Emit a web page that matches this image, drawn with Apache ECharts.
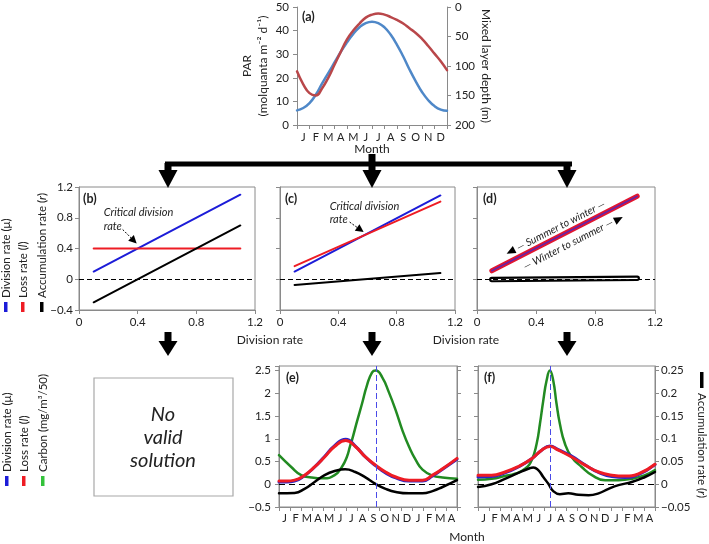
<!DOCTYPE html>
<html><head><meta charset="utf-8">
<script src="https://cdn.jsdelivr.net/npm/echarts@6/dist/echarts.min.js"></script>
<style>html,body{margin:0;padding:0;background:#fff}#c{width:709px;height:544px}</style>
</head><body><div id="c"></div>
<script>
const FONT = 'Lato';
const GRAY = '#8a8a8a';
const TXT = '#222222';

// ---------------- DATA ----------------
const monthsA = ['J','F','M','A','M','J','J','A','S','O','N','D'];
const monthsEF = ['J','F','M','A','M','J','J','A','S','O','N','D','J','F','M','A'];

// (a) PAR and mixed layer depth, month position (0 = start of Jan)
const aMonthPos = [0,0.5,1,1.5,2,2.5,3,3.5,4,4.5,5,5.5,6,6.5,7,7.5,8,8.5,9,9.5,10,10.5,11,11.5,12];
const parVals = [6.2,7.2,9.3,12.8,17.5,22,26.5,31,35,38.6,41.4,43.2,43.8,43.2,41.4,38.2,34,29,23.5,18.5,14,10.5,8,6.5,6];
const mldVals = [109,131,146,150,138,120,98,76,55,40,28,18,13,11,13,17,22,28,36,44,54,66,79,92,107];

// (b)
const bX = [0.1, 1.1];
const bDiv = [0.1, 1.1];
const bLoss = [0.4, 0.4];
const bAcc = [-0.3, 0.7];
// (c)
const cX = [0.1, 1.1];
const cDiv = [0.1, 1.09];
const cLoss = [0.17, 1.01];
const cAcc = [-0.075, 0.08];
// (d)
const dX = [0.1, 1.08];
const dDiv = [0.11, 1.08];
const dAcc = [-0.004, 0.012];

// (e)
const eGreenX = [0,1.1,2,2.9,4,5,5.65,6.1,6.4,6.56,7,7.46,7.9,8.37,8.7,9.28,9.88,10.5,11.1,11.7,12.3,12.9,13.8,14.7,16];
const eGreen  = [0.64,0.38,0.2,0.15,0.13,0.2,0.38,0.6,0.85,0.97,1.37,1.77,2.17,2.46,2.5,2.35,2.02,1.62,1.18,0.82,0.53,0.32,0.19,0.15,0.12];
const eRateX  = [0,0.7,1.4,2.3,3.2,4.1,5,6,6.86,7.77,8.67,9.58,10.5,11.7,12.9,13.8,14.7,16];
const eLoss   = [0.07,0.07,0.09,0.2,0.38,0.6,0.83,0.96,0.83,0.6,0.42,0.27,0.16,0.09,0.09,0.2,0.34,0.57];
const eDiv    = [0.05,0.05,0.07,0.19,0.38,0.61,0.85,0.99,0.84,0.6,0.41,0.25,0.14,0.07,0.07,0.18,0.33,0.55];
const eAccX   = [0,1.4,2.3,3.2,4.1,5,5.95,6.86,7.77,8.67,9.58,10.5,11.7,12.9,13.8,14.7,16];
const eAcc    = [-0.02,-0.019,-0.01,0.005,0.02,0.029,0.033,0.027,0.015,0.001,-0.01,-0.017,-0.02,-0.02,-0.015,-0.006,0.009];

// (f)
const fGreenX = [0,1.23,2.44,3.34,4.25,4.85,5.3,5.6,5.9,6.2,6.5,6.8,7.1,7.4,7.86,8.46,9.37,10.3,11.5,12.7,13.9,15.1,16];
const fGreen  = [0.1,0.12,0.18,0.23,0.34,0.53,0.89,1.33,1.84,2.28,2.5,2.28,1.77,1.33,0.89,0.6,0.38,0.2,0.09,0.09,0.12,0.2,0.31];
const fRateX  = [0,1.23,2.44,3.64,4.85,5.75,6.5,7.26,8.46,9.67,10.9,12.1,13.3,14.5,16];
const fLoss   = [0.2,0.2,0.27,0.39,0.56,0.75,0.83,0.75,0.6,0.42,0.27,0.2,0.18,0.23,0.44];
const fDiv    = [0.16,0.17,0.25,0.38,0.56,0.75,0.84,0.76,0.62,0.43,0.26,0.17,0.15,0.21,0.43];
const fAccX   = [0,1.23,2.44,3.64,4.55,5,5.45,5.9,6.36,6.8,7.4,8.16,9.07,10,10.9,11.8,12.7,13.9,15.1,16];
const fAcc    = [-0.006,0,0.012,0.025,0.034,0.037,0.031,0.016,0.001,-0.015,-0.022,-0.02,-0.023,-0.024,-0.02,-0.01,-0.002,0.005,0.016,0.027];

// ---------------- HELPERS ----------------
const zip = (xs, ys) => xs.map((x, i) => [x, ys[i]]);
const argmaxX = (xs, ys) => xs[ys.indexOf(Math.max.apply(null, ys))];
const numFmt = v => { const s = String(+(+v).toFixed(4)); return s.replace('-', '\u2212'); };
const TICKFS = 11.5;

function axis(type, gridIndex, o) {
  const a = {
    type, gridIndex,
    splitLine: {show: false},
    axisLine: {show: true, onZero: false, lineStyle: {color: GRAY, width: 1}},
    axisTick: {show: true, inside: false, length: 4, lineStyle: {color: GRAY, width: 1}},
    axisLabel: {show: true, color: TXT, fontFamily: FONT, fontSize: TICKFS, margin: 6, formatter: numFmt}
  };
  for (const k in o) {
    if (a[k] && typeof a[k] === 'object' && typeof o[k] === 'object' && !Array.isArray(o[k])) a[k] = Object.assign({}, a[k], o[k]);
    else a[k] = o[k];
  }
  return a;
}
function catAxis(gridIndex, data, margin) {
  return {type: 'category', gridIndex, data, position: 'bottom', boundaryGap: true,
    axisLine: {show: false}, axisTick: {show: false}, splitLine: {show: false},
    axisLabel: {show: true, interval: 0, color: TXT, fontFamily: FONT, fontSize: 11, margin}};
}
function line(xi, yi, data, color, width, extra) {
  return Object.assign({type: 'line', xAxisIndex: xi, yAxisIndex: yi, data, symbol: 'none', showSymbol: false,
    smooth: true, lineStyle: {color, width, cap: 'round', join: 'round'}, itemStyle: {color}, silent: true, animation: false, z: 2}, extra || {});
}
function mark(xi, yi, data, color, dash, z) {
  return {type: 'line', xAxisIndex: xi, yAxisIndex: yi, data: [], symbol: 'none', silent: true, animation: false, z: z || 5,
    markLine: {silent: true, symbol: ['none', 'none'], animation: false, label: {show: false},
      lineStyle: {color, type: dash, width: 1}, emphasis: {disabled: true}, data}};
}
const gridBox = {show: true, borderColor: GRAY, borderWidth: 1, backgroundColor: 'transparent', outerBoundsMode: 'none'};

const BLUE = '#1c1cd8', RED = '#ee1c24', GREEN = '#228b22';

const option = {
  animation: false,
  backgroundColor: '#ffffff',
  textStyle: {fontFamily: FONT},
  grid: [
    {left: 297, top: 7, width: 150, height: 118, show: false, outerBoundsMode: 'none'},
    Object.assign({left: 79, top: 187, width: 176, height: 123}, gridBox),
    Object.assign({left: 280, top: 187, width: 175, height: 123}, gridBox),
    Object.assign({left: 477, top: 187, width: 178, height: 123}, gridBox),
    Object.assign({left: 279, top: 366, width: 178, height: 141}, gridBox),
    Object.assign({left: 478, top: 366, width: 177, height: 141}, gridBox)
  ],
  xAxis: [
    axis('value', 0, {min: 0, max: 12, interval: 1, axisLabel: {show: false}}),
    catAxis(0, monthsA, 7),
    axis('value', 1, {min: 0, max: 1.2, interval: 0.4}),
    axis('value', 2, {min: 0, max: 1.2, interval: 0.4}),
    axis('value', 3, {min: 0, max: 1.2, interval: 0.4}),
    axis('value', 4, {min: 0, max: 16, interval: 1, axisLabel: {show: false}}),
    catAxis(4, monthsEF, 6),
    axis('value', 5, {min: 0, max: 16, interval: 1, axisLabel: {show: false}}),
    catAxis(5, monthsEF, 6)
  ],
  yAxis: [
    axis('value', 0, {min: 0, max: 50, interval: 10, axisLabel: {margin: 8}}),
    axis('value', 0, {min: 0, max: 200, interval: 50, inverse: true, position: 'right', axisLabel: {margin: 8}}),
    axis('value', 1, {min: -0.4, max: 1.2, interval: 0.4}),
    axis('value', 2, {min: -0.4, max: 1.2, interval: 0.4, axisLabel: {show: false}}),
    axis('value', 3, {min: -0.4, max: 1.2, interval: 0.4, axisLabel: {show: false}}),
    axis('value', 4, {min: -0.5, max: 2.6, interval: 0.5, axisLabel: {margin: 8, formatter: v => v > 2.55 ? '' : numFmt(v)}}),
    axis('value', 4, {min: -0.05, max: 0.26, interval: 0.05, position: 'right', axisLabel: {show: false}}),
    axis('value', 5, {min: -0.5, max: 2.6, interval: 0.5, axisLabel: {show: false}}),
    axis('value', 5, {min: -0.05, max: 0.26, interval: 0.05, position: 'right', axisLabel: {margin: 6, formatter: v => v > 0.255 ? '' : numFmt(v)}})
  ],
  series: [
    // (a)
    line(0, 0, zip(aMonthPos, parVals), '#4f88c8', 2.5),
    line(0, 1, zip(aMonthPos, mldVals), '#b9474a', 2.5),
    // (b)
    mark(2, 2, [{yAxis: 0}], '#000', [5, 3], 1),
    line(2, 2, zip(bX, bDiv), BLUE, 2, {smooth: false}),
    line(2, 2, zip(bX, bLoss), RED, 2, {smooth: false}),
    line(2, 2, zip(bX, bAcc), '#000', 2, {smooth: false}),
    // (c)
    mark(3, 3, [{yAxis: 0}], '#000', [5, 3], 1),
    line(3, 3, zip(cX, cDiv), BLUE, 2, {smooth: false}),
    line(3, 3, zip(cX, cLoss), RED, 2, {smooth: false}),
    line(3, 3, zip(cX, cAcc), '#000', 2, {smooth: false}),
    // (d)
    line(4, 4, zip(dX, dDiv), '#e3162e', 5, {smooth: false}),
    line(4, 4, zip(dX, dDiv), 'rgba(60,40,210,0.75)', 1.6, {smooth: false, z: 3}),
    line(4, 4, zip(dX, dAcc), '#000', 5.5, {smooth: false}),
    line(4, 4, zip(dX, dAcc), '#ffffff', 1.2, {smooth: false, z: 3}),
    mark(4, 4, [{yAxis: 0}], '#000', [5, 3], 6),
    // (e)
    mark(5, 5, [{yAxis: 0}], '#000', [6, 4], 1),
    line(5, 5, zip(eGreenX, eGreen), GREEN, 2.5),
    line(5, 5, zip(eRateX, eDiv), '#2a24c8', 3),
    line(5, 5, zip(eRateX, eLoss), RED, 3),
    line(5, 6, zip(eAccX, eAcc), '#000', 2.5),
    mark(5, 5, [{xAxis: argmaxX(eGreenX, eGreen)}], '#4a4ae8', [6, 3], 6),
    // (f)
    mark(7, 7, [{yAxis: 0}], '#000', [6, 4], 1),
    line(7, 7, zip(fGreenX, fGreen), GREEN, 2.5),
    line(7, 7, zip(fRateX, fDiv), '#2a24c8', 3),
    line(7, 7, zip(fRateX, fLoss), RED, 3),
    line(7, 8, zip(fAccX, fAcc), '#000', 2.5),
    mark(7, 7, [{xAxis: argmaxX(fGreenX, fGreen)}], '#4a4ae8', [6, 3], 6)
  ]
};

const chart = echarts.init(document.getElementById('c'), null, {renderer: 'canvas'});
chart.setOption(option);

// ---------------- ANNOTATIONS ----------------
const el = [];
function rich(size, italic) {
  const base = {fontFamily: FONT, fontSize: size, fill: TXT, color: TXT};
  return {n: Object.assign({}, base, {fontStyle: italic ? 'italic' : 'normal'}), i: Object.assign({}, base, {fontStyle: 'italic'}), b: Object.assign({}, base, {fontWeight: 'bold'})};
}
function txt(x, y, text, o) {
  o = o || {};
  const size = o.size || 11.5;
  const align = o.align || 'center', va = o.va || 'middle';
  el.push({type: 'text', x, y, rotation: o.rot || 0, z: 100, silent: true,
    style: {text, fontFamily: FONT, fontSize: size, fontStyle: o.italic ? 'italic' : 'normal', fontWeight: o.bold ? 'bold' : 'normal',
      fill: o.color || TXT, align, verticalAlign: va, textAlign: align, textVerticalAlign: va, rich: rich(size, o.italic)}});
}
function rect(x, y, w, h, fill, stroke) {
  el.push({type: 'rect', z: 100, silent: true, shape: {x, y, width: w, height: h},
    style: stroke ? {fill: 'none', stroke, lineWidth: 1.2} : {fill}});
}
function poly(points) { el.push({type: 'polygon', z: 100, silent: true, shape: {points}, style: {fill: '#000'}}); }
function seg(p1, p2, w, dash) {
  el.push({type: 'line', z: 100, silent: true, shape: {x1: p1[0], y1: p1[1], x2: p2[0], y2: p2[1]},
    style: {stroke: '#000', lineWidth: w || 1, lineDash: dash || null}});
}
function head(T, from, L, W) {
  const dx = T[0] - from[0], dy = T[1] - from[1], len = Math.hypot(dx, dy);
  const d = [dx / len, dy / len], n = [-d[1], d[0]];
  const b = [T[0] - d[0] * L, T[1] - d[1] * L];
  poly([T, [b[0] + n[0] * W / 2, b[1] + n[1] * W / 2], [b[0] - n[0] * W / 2, b[1] - n[1] * W / 2]]);
}
function bigDown(cx, y0, yh, yt) {
  rect(cx - 3.5, y0, 7, yh - y0 + 1, '#000');
  poly([[cx - 9.5, yh], [cx + 9.5, yh], [cx, yt]]);
}

// flow arrows
rect(165, 161.5, 407, 5, '#000');
rect(368.5, 154, 7, 9, '#000');
[168, 372, 567].forEach(cx => { bigDown(cx, 163, 170, 188); bigDown(cx, 332, 341, 356); });

// panel letters
txt(302, 17, '(a)', {bold: true, align: 'left', size: 12.5});
txt(83, 199, '(b)', {bold: true, align: 'left', size: 12.5});
txt(285, 199, '(c)', {bold: true, align: 'left', size: 12.5});
txt(483, 199, '(d)', {bold: true, align: 'left', size: 12.5});
txt(286, 378, '(e)', {bold: true, align: 'left', size: 12.5});
txt(484, 378, '(f)', {bold: true, align: 'left', size: 12.5});

// axis titles
txt(247, 66, 'PAR', {rot: Math.PI / 2, size: 12});
txt(263, 66, '(molquanta m\u207B\u00B2 d\u207B\u00B9)', {rot: Math.PI / 2, size: 12});
txt(486, 66, 'Mixed layer depth (m)', {rot: -Math.PI / 2, size: 12});
txt(372, 149, 'Month', {size: 12});
txt(270, 340, 'Division rate', {size: 12});
txt(466, 340, 'Division rate', {size: 12});
txt(467, 537, 'Month', {size: 12});

// left legends (top)
txt(6, 298, '{n|Division rate (\u03BC)}', {rot: Math.PI / 2, align: 'left'});
txt(23, 298, '{n|Loss rate (}{i|l}{n|)}', {rot: Math.PI / 2, align: 'left'});
txt(42, 298, '{n|Accumulation rate (}{i|r}{n|)}', {rot: Math.PI / 2, align: 'left'});
rect(4, 302, 3.5, 10, BLUE); rect(21, 302, 3.5, 10, RED); rect(40, 302, 3.5, 10, '#000');
// left legends (bottom)
txt(7, 472, '{n|Division rate (\u03BC)}', {rot: Math.PI / 2, align: 'left'});
txt(24, 472, '{n|Loss rate (}{i|l}{n|)}', {rot: Math.PI / 2, align: 'left'});
txt(43, 472, '{n|Carbon (mg/m\u00B3/50)}', {rot: Math.PI / 2, align: 'left'});
rect(5, 476, 3.5, 10, BLUE); rect(22, 476, 3.5, 10, RED); rect(41, 476, 3.5, 10, '#33c23a');
// right legend
rect(700, 372, 3.5, 16, '#000');
txt(702, 393, '{n|Accumulation rate (}{i|r}{n|)}', {rot: -Math.PI / 2, align: 'left'});

// no valid solution box
rect(94, 378, 139, 118, null, '#a8a8a8');
txt(163, 415, 'No', {italic: true, size: 20});
txt(163, 438, 'valid', {italic: true, size: 20});
txt(163, 461, 'solution', {italic: true, size: 20});

// critical division rate annotations
const px = (xi, yi, p) => chart.convertToPixel({xAxisIndex: xi, yAxisIndex: yi}, p);
function cross(x, y1, y2) {
  const s1 = (y1[1] - y1[0]) / (x[1] - x[0]), s2 = (y2[1] - y2[0]) / (x[1] - x[0]);
  const t = (y2[0] - y1[0]) / (s1 - s2);
  return [x[0] + t, y1[0] + s1 * t];
}
{
  const P = px(2, 2, cross(bX, bDiv, bLoss));
  txt(P[0] - 34, P[1] - 36, 'Critical division', {italic: true, align: 'left', size: 11});
  txt(P[0] - 34, P[1] - 22, 'rate', {italic: true, align: 'left', size: 11});
  const S = [P[0] - 15, P[1] - 19], T = [P[0] - 1, P[1] - 5];
  seg(S, [T[0] - 5, T[1] - 5], 1, [2, 1.5]);
  head(T, S, 8, 8);
}
{
  const P = px(3, 3, cross(cX, cDiv, cLoss));
  txt(P[0] - 33, P[1] - 30, 'Critical division', {italic: true, align: 'left', size: 11});
  txt(P[0] - 33, P[1] - 17, 'rate', {italic: true, align: 'left', size: 11});
  const S = [P[0] - 13, P[1] - 14], T = [P[0] + 1, P[1] - 4];
  seg(S, [T[0] - 5, T[1] - 3.5], 1, [2, 1.5]);
  head(T, S, 8, 8);
}
// (d) direction annotations
{
  const A = px(4, 4, [dX[0], dDiv[0]]), B = px(4, 4, [dX[1], dDiv[1]]);
  const len = Math.hypot(B[0] - A[0], B[1] - A[1]);
  const u = [(B[0] - A[0]) / len, (B[1] - A[1]) / len];
  const n = [u[1], -u[0]];
  const Q = (s, d) => [A[0] + s * u[0] + d * n[0], A[1] + s * u[1] + d * n[1]];
  const ang = Math.atan2(-u[1], u[0]);
  let c = Q(82, 8.5);
  txt(c[0], c[1], '\u2014 Summer to winter \u2014', {italic: true, size: 10.5, rot: ang});
  head(Q(21, 8.5), Q(32, 8.5), 9, 8);
  c = Q(80, -11.5);
  txt(c[0], c[1], '\u2014 Winter to summer \u2014', {italic: true, size: 10.5, rot: ang});
  head(Q(141, -12), Q(130, -12), 9, 8);
}

chart.setOption({graphic: {elements: el}});
</script>
</body></html>
